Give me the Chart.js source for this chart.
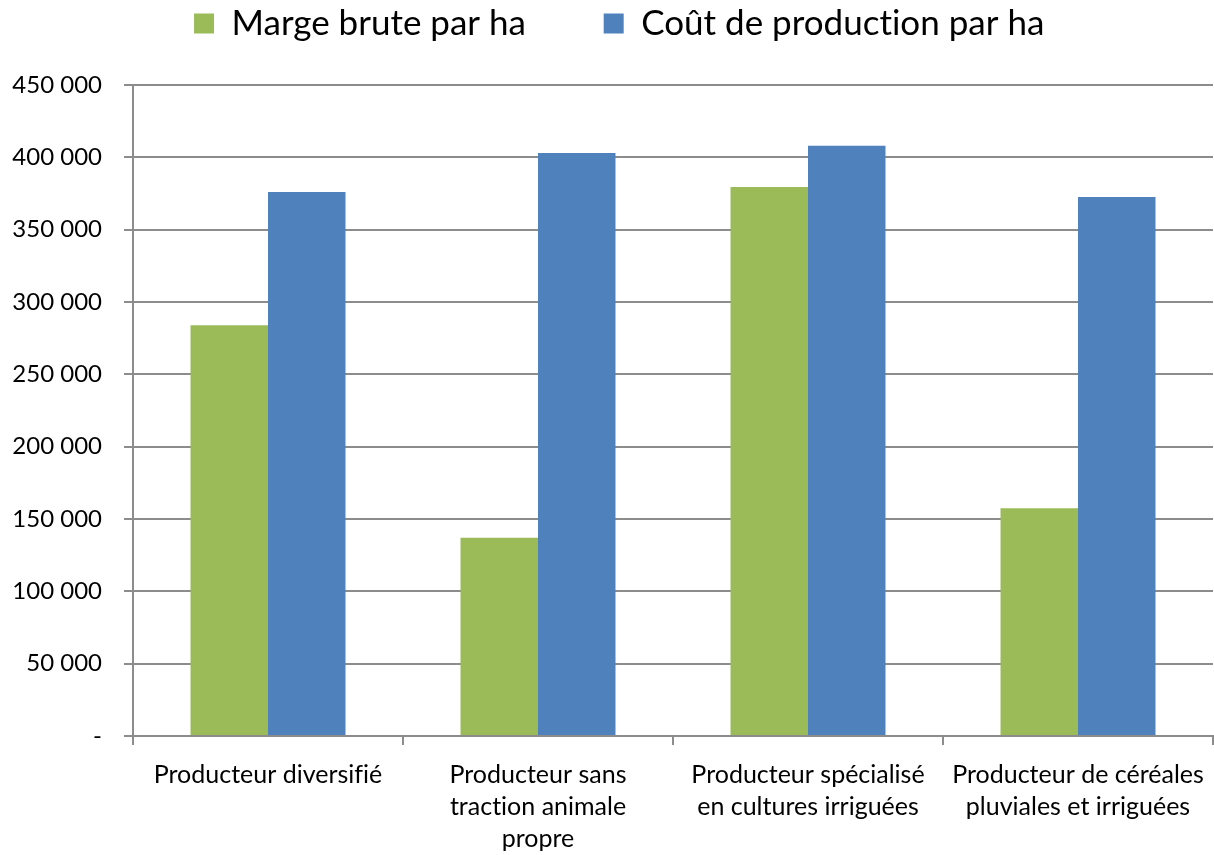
<!DOCTYPE html>
<html>
<head>
<meta charset="utf-8">
<script src="https://cdn.jsdelivr.net/npm/chart.js@4/dist/chart.umd.min.js"></script>
<style>
  html, body { margin: 0; padding: 0; background: #fff; }
  #wrap { width: 1214px; height: 855px; }
</style>
</head>
<body>
<div id="wrap"><canvas id="chart"></canvas></div>
<script>
const categories = [
    'Producteur diversifié',
    ['Producteur sans', 'traction animale', 'propre'],
    ['Producteur spécialisé', 'en cultures irriguées'],
    ['Producteur de céréales', 'pluviales et irriguées']
];
const margeBrute = [284000, 137000, 379500, 157500];
const coutProduction = [376000, 403000, 408000, 372500];
const seriesNames = ['Marge brute par ha', 'Coût de production par ha'];
const yTicks = { min: 0, max: 450000, step: 50000 };

const FONT = 'Lato, "Open Sans", sans-serif';
const GRID = '#8c8c8c';

// fixe la hauteur de la légende, pas de ligatures
const tweaks = {
    id: 'tweaks',
    beforeInit(chart) {
        const fit = chart.legend.fit;
        chart.legend.fit = function () {
            fit.bind(chart.legend)();
            this.height = 85;
        };
    },
    afterLayout(chart) {
        chart.legend.left = 26;
    },
    beforeDraw(chart) {
        chart.ctx.textRendering = 'optimizeSpeed';
    }
};

function fmt(v) {
    if (v === 0) return '-';
    return String(v).replace(/\B(?=(\d{3})+(?!\d))/g, ' ');
}

const ctx = document.getElementById('chart').getContext('2d');
new Chart(ctx, {
    type: 'bar',
    data: {
        labels: categories,
        datasets: [
            {
                label: seriesNames[0],
                data: margeBrute,
                backgroundColor: '#9bbb59',
                borderWidth: 0
            },
            {
                label: seriesNames[1],
                data: coutProduction,
                backgroundColor: '#4f81bd',
                borderWidth: 0
            }
        ]
    },
    options: {
        responsive: true,
        maintainAspectRatio: false,
        animation: false,
        layout: { padding: { left: 0, right: 1, top: 0, bottom: 0 } },
        datasets: {
            bar: { categoryPercentage: 0.574, barPercentage: 1 }
        },
        scales: {
            x: {
                grid: {
                    drawOnChartArea: false,
                    drawTicks: true,
                    tickLength: 9,
                    color: GRID,
                    lineWidth: 2
                },
                border: { color: GRID, width: 2 },
                ticks: {
                    color: '#000',
                    padding: 14,
                    maxRotation: 0,
                    autoSkip: false,
                    font: { family: FONT, size: 25, lineHeight: 1.28 }
                },
                afterFit(scale) {
                    scale.height = 119;
                    scale.paddingLeft = 0;
                    scale.paddingRight = 0;
                }
            },
            y: {
                min: yTicks.min,
                max: yTicks.max,
                grid: {
                    color: GRID,
                    lineWidth: 2,
                    tickLength: 9
                },
                border: { color: GRID, width: 2 },
                ticks: {
                    stepSize: yTicks.step,
                    color: '#000',
                    padding: 22,
                    font: { family: FONT, size: 24 },
                    callback: (v) => fmt(v)
                },
                afterFit(scale) { scale.width = 133; }
            }
        },
        plugins: {
            legend: {
                position: 'top',
                labels: {
                    color: '#000',
                    boxWidth: 20,
                    boxHeight: 20,
                    padding: 6,
                    font: { family: FONT, size: 35 },
                    generateLabels(chart) {
                        const items = Chart.defaults.plugins.legend.labels.generateLabels(chart);
                        items.forEach((it, i) => {
                            it.lineWidth = 0;
                            if (i < items.length - 1) it.text = it.text + '\u00a0\u00a0\u00a0\u00a0\u00a0\u00a0\u00a0\u00a0';
                        });
                        return items;
                    }
                }
            },
            tooltip: { enabled: false }
        }
    },
    plugins: [tweaks]
});
</script>
</body>
</html>
